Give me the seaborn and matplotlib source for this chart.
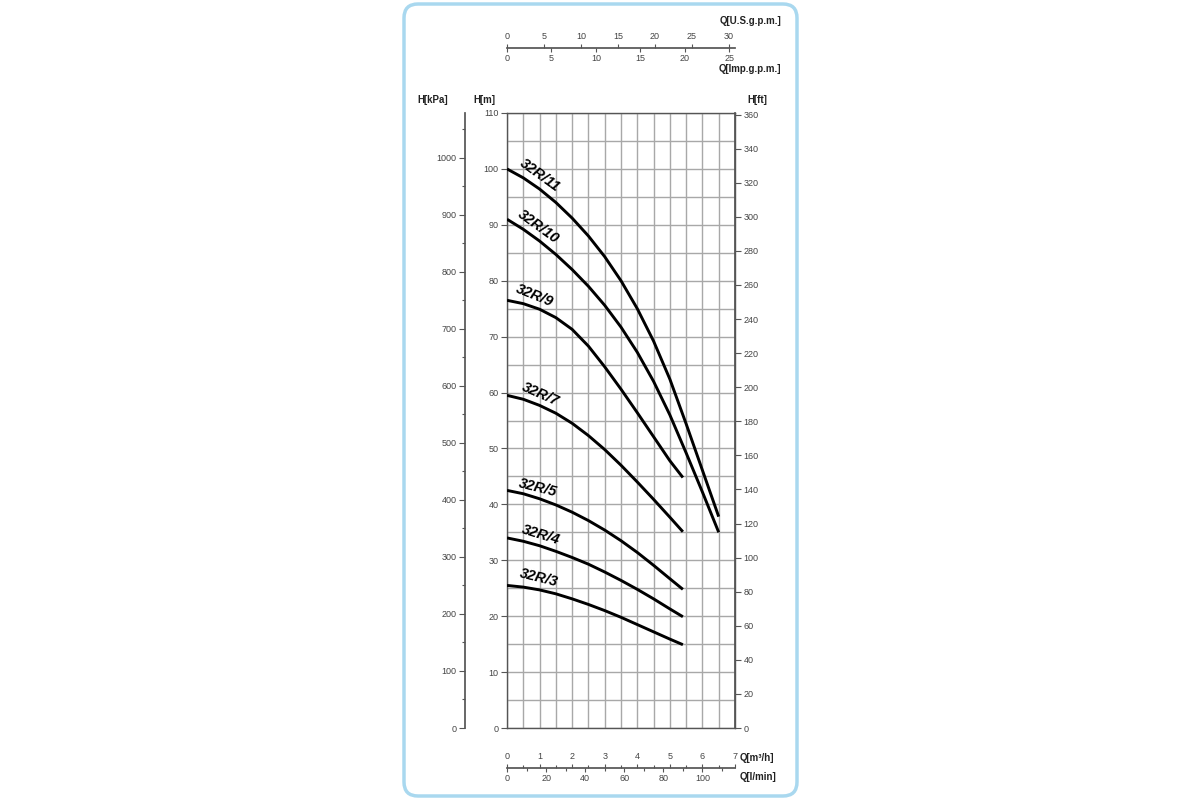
import numpy as np
import pandas as pd
import seaborn as sns
import matplotlib.pyplot as plt
from matplotlib.patches import FancyBboxPatch
from matplotlib.ticker import MultipleLocator

# flow points, m3/h
q_long = [0, 0.5, 1.0, 1.5, 2.0, 2.5, 3.0, 3.5, 4.0, 4.5, 5.0, 5.5, 6.0, 6.5]
q_short = [0, 0.5, 1.0, 1.5, 2.0, 2.5, 3.0, 3.5, 4.0, 4.5, 5.0, 5.4]

# head in m for each pump
h_11 = [100, 98.4, 96.4, 94.0, 91.2, 88.0, 84.3, 80.0, 75.0, 69.2, 62.4, 54.4, 46.1, 37.8]
h_10 = [91.0, 89.2, 87.1, 84.7, 82.0, 79.0, 75.6, 71.7, 67.2, 62.0, 56.0, 49.2, 42.2, 35.0]
h_9 = [76.5, 75.9, 74.9, 73.4, 71.3, 68.3, 64.6, 60.6, 56.4, 52.1, 47.8, 44.8]
h_7 = [59.5, 58.8, 57.7, 56.3, 54.5, 52.3, 49.8, 47.0, 44.0, 40.9, 37.7, 35.1]
h_5 = [42.5, 41.9, 41.0, 39.9, 38.6, 37.1, 35.4, 33.5, 31.4, 29.1, 26.7, 24.8]
h_4 = [34.0, 33.4, 32.6, 31.6, 30.5, 29.3, 27.9, 26.4, 24.8, 23.1, 21.3, 19.9]
h_3 = [25.5, 25.2, 24.7, 24.0, 23.1, 22.1, 21.0, 19.8, 18.5, 17.2, 15.9, 14.9]

models = ["32R/11", "32R/10", "32R/9", "32R/7", "32R/5", "32R/4", "32R/3"]
heads = [h_11, h_10, h_9, h_7, h_5, h_4, h_3]
flows = [q_long, q_long, q_short, q_short, q_short, q_short, q_short]

# label anchor (Q, H) and angle for each curve name
label_q = [1.01, 0.96, 0.84, 1.01, 0.96, 1.03, 0.98]
label_h = [98.8, 89.6, 77.4, 59.7, 42.9, 34.6, 26.8]
label_rot = [-36, -36, -22, -24, -14, -17, -14]

rows = []
for m, q, h in zip(models, flows, heads):
    for a, b in zip(q, h):
        rows.append({"model": m, "Q": a, "H": b})
df = pd.DataFrame(rows)

sns.set_theme(style="ticks")
plt.rcParams['font.family'] = ['Liberation Sans', 'DejaVu Sans']

tick_col = '#444444'
spine_col = '#555555'

fig = plt.figure(figsize=(12, 8), dpi=100)

# background frame with rounded corners
bg = fig.add_axes([0, 0, 1, 1], zorder=-5)
bg.set_xlim(0, 1200)
bg.set_ylim(800, 0)
bg.axis('off')
bg.add_patch(FancyBboxPatch((404, 4), 393, 792, boxstyle="round,pad=0,rounding_size=14",
                            ec='#a9d8ef', fc='white', lw=2.5))

ax = fig.add_axes([507 / 1200, 72 / 800, 228 / 1200, 615 / 800])
ax.set_facecolor('none')
sns.lineplot(data=df, x="Q", y="H", units="model", estimator=None, sort=False,
             color='black', lw=2.1, legend=False, ax=ax, zorder=5,
             solid_joinstyle='round', solid_capstyle='butt')
ax.set_xlim(0, 7)
ax.set_ylim(0, 110)
ax.set_xlabel('')
ax.set_ylabel('')
ax.xaxis.set_major_locator(MultipleLocator(0.5))
ax.yaxis.set_major_locator(MultipleLocator(10))
ax.yaxis.set_minor_locator(MultipleLocator(5))
ax.grid(True, which='both', color='#a8a8a8', lw=1.0)
ax.tick_params(axis='x', which='both', bottom=False, labelbottom=False)
ax.tick_params(axis='y', which='major', length=4, width=0.8, color=spine_col,
               labelsize=6.5, labelcolor=tick_col, pad=2)
ax.tick_params(axis='y', which='minor', length=0)
for s in ax.spines.values():
    s.set_color(spine_col)
    s.set_linewidth(1.0)

for m, x, y, r in zip(models, label_q, label_h, label_rot):
    ax.text(x, y, m, rotation=r, rotation_mode='anchor', ha='center', va='center',
            fontsize=10.5, fontweight='bold', fontstyle='italic', color='black', zorder=6)

# kPa axis on the far left
axk = ax.twinx()
axk.set_ylim(0, 110 * 9.80665)
axk.spines['left'].set_position(('axes', (465 - 507) / 228))
axk.spines['left'].set_visible(True)
axk.spines['left'].set_color(spine_col)
for s in ['right', 'top', 'bottom']:
    axk.spines[s].set_visible(False)
axk.yaxis.set_ticks_position('left')
axk.yaxis.set_label_position('left')
axk.yaxis.set_major_locator(MultipleLocator(100))
axk.yaxis.set_minor_locator(MultipleLocator(50))
axk.tick_params(axis='y', which='major', length=4, width=0.8, color=spine_col,
                labelsize=6.5, labelcolor=tick_col, pad=2)
axk.tick_params(axis='y', which='minor', length=2.5, width=0.8, color=spine_col)
axk.grid(False)

# ft axis on the right
axf = ax.twinx()
axf.set_ylim(0, 110 * 3.28084)
for s in ['left', 'top', 'bottom']:
    axf.spines[s].set_visible(False)
axf.spines['right'].set_color(spine_col)
axf.yaxis.set_major_locator(MultipleLocator(20))
axf.tick_params(axis='y', which='major', length=4, width=0.8, color=spine_col,
                labelsize=6.5, labelcolor=tick_col, pad=2)
axf.grid(False)


def scale_axes(ypix, xmax, major, minor, side):
    a = fig.add_axes([507 / 1200, 1 - ypix / 800, 228 / 1200, 1e-4])
    a.set_facecolor('none')
    a.set_xlim(0, xmax)
    a.set_yticks([])
    for s in a.spines.values():
        s.set_visible(False)
    a.spines['bottom'].set_visible(side == 'top')
    a.spines['bottom'].set_color(spine_col)
    a.xaxis.set_ticks_position(side)
    a.xaxis.set_label_position(side)
    a.xaxis.set_major_locator(MultipleLocator(major))
    if minor:
        a.xaxis.set_minor_locator(MultipleLocator(minor))
    a.tick_params(axis='x', which='major', length=3, width=0.8, color=spine_col,
                  labelsize=6.5, labelcolor=tick_col, pad=2 if side == 'top' else 1.5)
    a.tick_params(axis='x', which='minor', length=2, width=0.8, color=spine_col)
    return a


# top flow scales
top_us = scale_axes(48, 7 * 4.40287, 5, None, 'top')
top_us.set_xticks(np.arange(0, 31, 5))
top_imp = scale_axes(48, 7 * 3.66615, 5, None, 'bottom')
top_imp.set_xticks(np.arange(0, 26, 5))

# bottom flow scales
bot_m3 = scale_axes(768, 7, 1, 0.5, 'top')
bot_lm = scale_axes(768, 7 * 1000 / 60, 20, 10, 'bottom')
bot_lm.set_xticks(np.arange(0, 101, 20))

lab = dict(fontsize=7, fontweight='bold', color='#222222')
fig.text(433 / 1200, 1 - 100 / 800, 'H[kPa]', ha='center', va='center', **lab)
fig.text(484 / 1200, 1 - 100 / 800, 'H[m]', ha='center', va='center', **lab)
fig.text(757 / 1200, 1 - 100 / 800, 'H[ft]', ha='center', va='center', **lab)
fig.text(781 / 1200, 1 - 21 / 800, 'Q[U.S.g.p.m.]', ha='right', va='center', **lab)
fig.text(781 / 1200, 1 - 69 / 800, 'Q[Imp.g.p.m.]', ha='right', va='center', **lab)
fig.text(740 / 1200, 1 - 758 / 800, 'Q[m³/h]', ha='left', va='center', **lab)
fig.text(740 / 1200, 1 - 777 / 800, 'Q[l/min]', ha='left', va='center', **lab)

fig.savefig('out.png', dpi=100)
